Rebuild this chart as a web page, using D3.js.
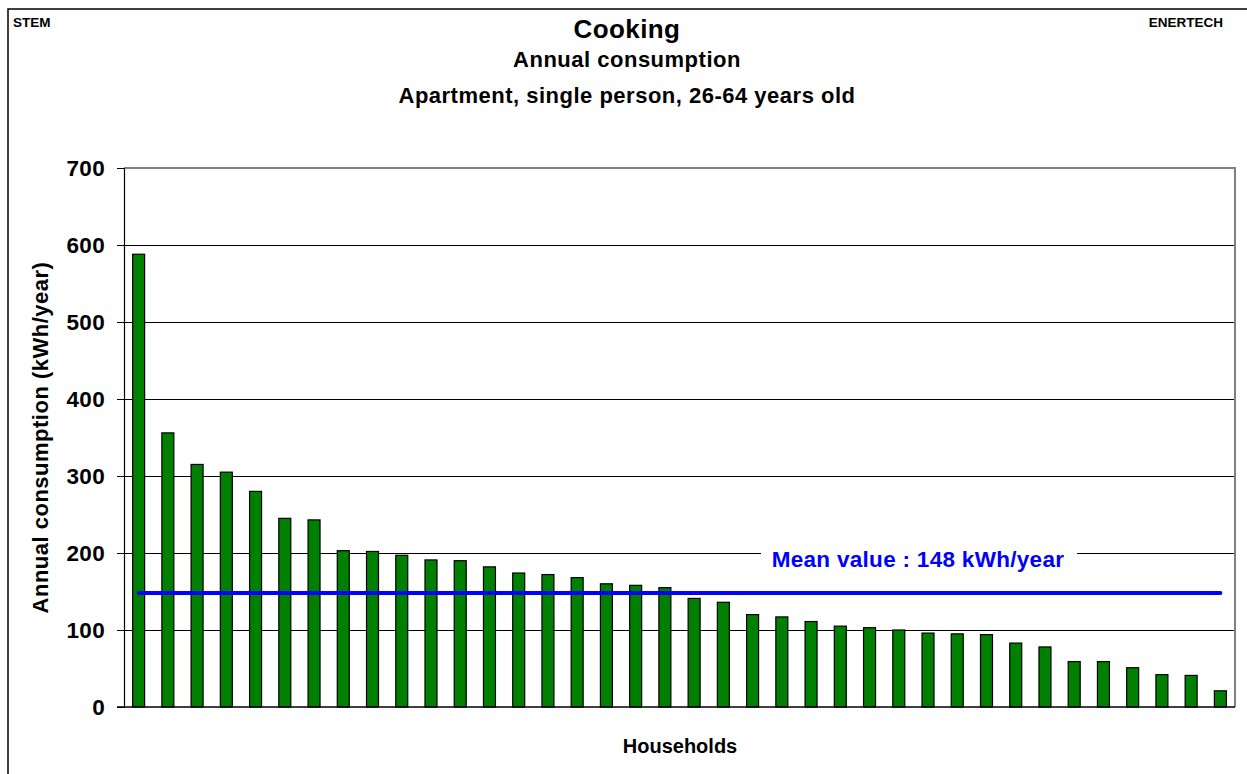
<!DOCTYPE html>
<html><head><meta charset="utf-8">
<script src="https://cdn.jsdelivr.net/npm/d3@7"></script>
<style>html,body{margin:0;padding:0;background:#fff;overflow:hidden}</style>
</head><body>
<script>
const households = d3.range(1, 39).map(String);
const consumption = [588, 356, 315, 305, 280, 245, 243, 203, 202, 197, 191, 190, 182, 174, 172, 168, 160, 158, 155, 141, 136, 120, 117, 111, 105, 103, 100, 96, 95, 94, 83, 78, 59, 59, 51, 42, 41, 21];
const meanValue = 148;
const yTicks = [0, 100, 200, 300, 400, 500, 600, 700];
const titleLines = ["Cooking", "Annual consumption", "Apartment, single person, 26-64 years old"];

const W = 1247, H = 774;
const L = 124, R = 1235, T = 168, B = 707;
const font = "'Liberation Sans', Arial, sans-serif";

const svg = d3.select("body").append("svg").attr("width", W).attr("height", H)
  .style("font-family", font);

svg.append("rect").attr("x", 8).attr("y", 9).attr("width", 1300).attr("height", 900)
  .attr("fill", "#fff").attr("stroke", "#000").attr("stroke-width", 1.5);

const x = d3.scaleBand().domain(households).range([L, R]).paddingInner(0.59).paddingOuter(0.295);
const y = d3.scaleLinear().domain([0, 700]).range([B, T]);

// gridlines
svg.append("g").selectAll("line").data(yTicks.filter(d => d > 0 && d < 700)).join("line")
  .attr("x1", L).attr("x2", R).attr("y1", d => y(d)).attr("y2", d => y(d))
  .attr("stroke", "#000").attr("stroke-width", 1).attr("shape-rendering", "crispEdges");

// plot frame top/right
svg.append("path").attr("d", `M${L},${y(700)}H${R}V${B}`).attr("fill", "none")
  .attr("stroke", "#808080").attr("stroke-width", 2);

// bars
svg.append("g").selectAll("rect").data(consumption).join("rect")
  .attr("x", (d, i) => x(households[i])).attr("width", x.bandwidth())
  .attr("y", d => y(d)).attr("height", d => y(0) - y(d))
  .attr("fill", "#008000").attr("stroke", "#000").attr("stroke-width", 1.2);

// y axis
const yAxis = svg.append("g").attr("transform", `translate(${L},0)`)
  .call(d3.axisLeft(y).tickValues(yTicks).tickSize(7).tickPadding(12).tickFormat(d3.format("d")));
yAxis.select(".domain").attr("stroke", "#000").attr("stroke-width", 1.2);
yAxis.selectAll(".tick line").attr("stroke", "#000");
yAxis.selectAll("text").attr("font-size", 22.5).attr("font-weight", "bold").attr("fill", "#000")
  .attr("letter-spacing", 0.3).attr("font-family", font);

// bottom axis line
svg.append("line").attr("x1", L - 7).attr("x2", R).attr("y1", B).attr("y2", B)
  .attr("stroke", "#000").attr("stroke-width", 1.5);

// mean line
svg.append("line")
  .attr("x1", x(households[0]) + x.bandwidth() / 2)
  .attr("x2", x(households[households.length - 1]) + x.bandwidth() / 2)
  .attr("y1", y(meanValue)).attr("y2", y(meanValue))
  .attr("stroke", "#0000ff").attr("stroke-width", 4).attr("stroke-linecap", "round");

// mean label with white background
const lbl = svg.append("g");
const lblText = lbl.append("text").attr("x", 918).attr("y", 567).attr("text-anchor", "middle")
  .attr("font-size", 22.5).attr("font-weight", "bold").attr("fill", "#0000ff").attr("letter-spacing", 0.3)
  .text(`Mean value : ${meanValue} kWh/year`);
const bb = lblText.node().getBBox();
lbl.insert("rect", "text").attr("x", 761).attr("y", bb.y).attr("width", 1077 - 761).attr("height", bb.height)
  .attr("fill", "#fff");

// titles
svg.append("text").attr("x", 627).attr("y", 38).attr("text-anchor", "middle")
  .attr("font-size", 26).attr("font-weight", "bold").attr("letter-spacing", 0.4).text(titleLines[0]);
svg.append("text").attr("x", 627).attr("y", 67).attr("text-anchor", "middle")
  .attr("font-size", 22).attr("font-weight", "bold").attr("letter-spacing", 0.5).text(titleLines[1]);
svg.append("text").attr("x", 627).attr("y", 103).attr("text-anchor", "middle")
  .attr("font-size", 22).attr("font-weight", "bold").attr("letter-spacing", 0.5).text(titleLines[2]);

svg.append("text").attr("x", 13).attr("y", 27).attr("font-size", 13.5).attr("font-weight", "bold").text("STEM");
svg.append("text").attr("x", 1223).attr("y", 27).attr("text-anchor", "end").attr("font-size", 13.5)
  .attr("font-weight", "bold").text("ENERTECH");

// axis titles
svg.append("text").attr("transform", `translate(48,${(T + B) / 2}) rotate(-90)`).attr("text-anchor", "middle")
  .attr("font-size", 22).attr("font-weight", "bold").attr("letter-spacing", 0.5)
  .text("Annual consumption (kWh/year)");
svg.append("text").attr("x", 680).attr("y", 753).attr("text-anchor", "middle")
  .attr("font-size", 20).attr("font-weight", "bold").text("Households");
</script>
</body></html>
